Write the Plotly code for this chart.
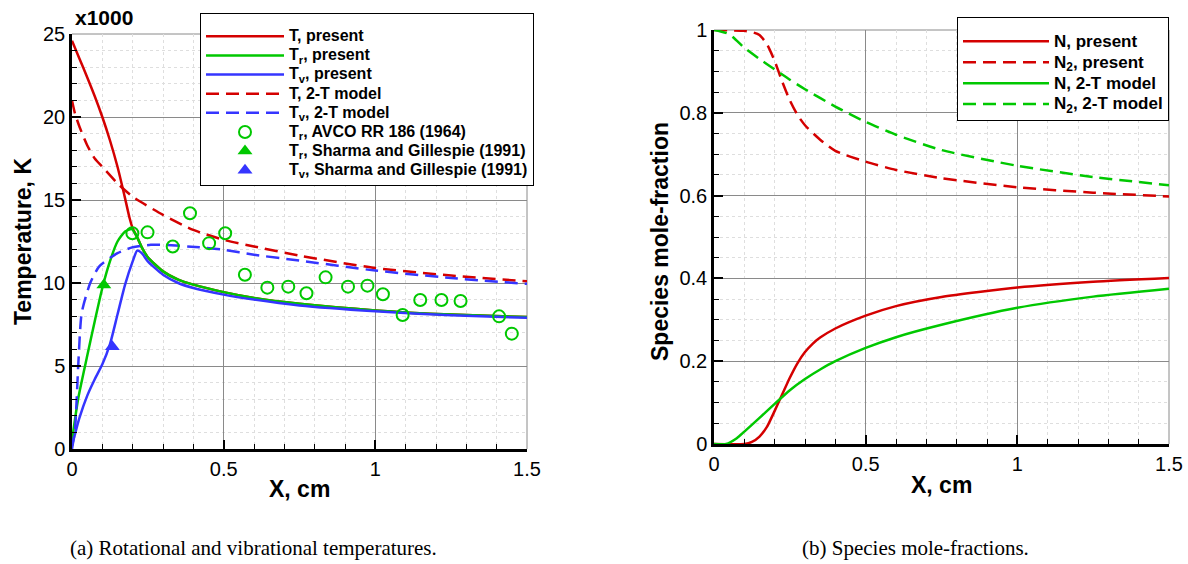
import plotly.graph_objects as go

W, H = 1188, 564
FONT = "Liberation Sans, Arial, Helvetica, sans-serif"
SERIF = "Liberation Serif, Times New Roman, serif"
RED = "#d40000"
GREEN = "#00c800"
BLUE = "#3535ff"

# ---------------- Panel (a): temperatures (x1000 K) ----------------
x_T_present = [0, 0.025, 0.05, 0.075, 0.1, 0.125, 0.15, 0.175, 0.19, 0.2, 0.215, 0.23, 0.25, 0.3, 0.35, 0.4, 0.5, 0.6, 0.75, 1.0, 1.25, 1.5]
T_present = [24.6, 23.5, 22.4, 21.25, 20.0, 18.6, 17.0, 15.1, 13.9, 13.3, 12.75, 12.15, 11.55, 10.7, 10.2, 9.9, 9.45, 9.1, 8.75, 8.35, 8.1, 7.95]

x_Tr_present = [0, 0.02, 0.05, 0.075, 0.1, 0.125, 0.15, 0.175, 0.197, 0.215, 0.23, 0.25, 0.3, 0.35, 0.4, 0.5, 0.6, 0.75, 1.0, 1.25, 1.5]
Tr_present = [0.5, 3.0, 5.6, 7.7, 9.7, 11.3, 12.5, 13.1, 13.25, 12.75, 12.15, 11.55, 10.7, 10.2, 9.9, 9.45, 9.1, 8.75, 8.35, 8.1, 7.95]

x_Tv_present = [0, 0.025, 0.05, 0.075, 0.1, 0.125, 0.15, 0.175, 0.2, 0.215, 0.23, 0.25, 0.3, 0.35, 0.4, 0.5, 0.6, 0.75, 1.0, 1.25, 1.5]
Tv_present = [0.2, 1.9, 3.2, 4.2, 5.1, 6.3, 8.1, 9.9, 11.3, 11.95, 11.8, 11.3, 10.5, 10.0, 9.7, 9.3, 9.0, 8.65, 8.3, 8.05, 7.9]

x_T_2T = [0, 0.01, 0.025, 0.05, 0.075, 0.1, 0.15, 0.2, 0.3, 0.4, 0.5, 0.6, 0.75, 1.0, 1.25, 1.5]
T_2T = [21.0, 20.2, 19.4, 18.3, 17.5, 17.0, 16.0, 15.2, 14.1, 13.2, 12.6, 12.2, 11.65, 10.9, 10.45, 10.1]

x_Tv_2T = [0, 0.01, 0.021, 0.032, 0.06, 0.09, 0.15, 0.2, 0.26, 0.3, 0.42, 0.5, 0.6, 0.75, 1.0, 1.25, 1.5]
Tv_2T = [0.0, 1.2, 5.2, 8.2, 10.0, 11.0, 11.8, 12.15, 12.3, 12.3, 12.15, 12.0, 11.7, 11.35, 10.75, 10.3, 9.95]

x_avco = [0.199, 0.249, 0.332, 0.389, 0.452, 0.505, 0.570, 0.644, 0.713, 0.773, 0.836, 0.910, 0.974, 1.025, 1.090, 1.148, 1.218, 1.281, 1.408, 1.450]
Tr_avco = [13.0, 13.05, 12.2, 14.2, 12.4, 13.0, 10.5, 9.72, 9.78, 9.38, 10.34, 9.78, 9.84, 9.32, 8.07, 8.98, 8.98, 8.92, 7.99, 6.95]

x_sg_r = [0.105]
Tr_sg = [9.88]
x_sg_v = [0.133]
Tv_sg = [6.16]

# ---------------- Panel (b): species mole fractions ----------------
x_N_present = [0, 0.1, 0.125, 0.15, 0.175, 0.2, 0.225, 0.25, 0.275, 0.3, 0.325, 0.35, 0.4, 0.5, 0.6, 0.75, 1.0, 1.25, 1.5]
N_present = [0, 0, 0.005, 0.018, 0.042, 0.08, 0.12, 0.16, 0.195, 0.222, 0.242, 0.257, 0.279, 0.31, 0.333, 0.355, 0.378, 0.392, 0.401]

x_N2_present = [0, 0.1, 0.125, 0.15, 0.175, 0.2, 0.225, 0.25, 0.275, 0.3, 0.35, 0.4, 0.5, 0.6, 0.75, 1.0, 1.25, 1.5]
N2_present = [1, 0.998, 0.995, 0.988, 0.965, 0.925, 0.875, 0.83, 0.795, 0.77, 0.735, 0.708, 0.682, 0.662, 0.642, 0.62, 0.607, 0.598]

x_N_2T = [0, 0.04, 0.075, 0.1, 0.15, 0.2, 0.25, 0.3, 0.35, 0.4, 0.5, 0.6, 0.75, 1.0, 1.25, 1.5]
N_2T = [0, 0, 0.014, 0.03, 0.063, 0.097, 0.13, 0.157, 0.18, 0.2, 0.232, 0.258, 0.288, 0.329, 0.356, 0.375]

x_N2_2T = [0, 0.05, 0.1, 0.15, 0.2, 0.25, 0.3, 0.4, 0.5, 0.6, 0.75, 1.0, 1.25, 1.5]
N2_2T = [1, 0.99, 0.957, 0.93, 0.905, 0.88, 0.857, 0.815, 0.778, 0.747, 0.71, 0.672, 0.645, 0.625]

x_ticks = [0, 0.5, 1, 1.5]
x_ticktext = ["0", "0.5", "1", "1.5"]
yT_ticks = [0, 5, 10, 15, 20, 25]
yT_ticktext = ["0", "5", "10", "15", "20", "25"]
yN_ticks = [0, 0.2, 0.4, 0.6, 0.8, 1.0]
yN_ticktext = ["0", "0.2", "0.4", "0.6", "0.8", "1"]

DASH = "13px,7px"
LW = 2.5


def lab(txt, size):
    return '<span style="font-size:%spx"><b>%s</b></span>' % (size, txt)


LS1 = 16
LS2 = 17

fig = go.Figure()


def line(x, y, color, dash, name, xa, ya, leg):
    fig.add_trace(go.Scatter(
        x=x, y=y, mode="lines", name=name, xaxis=xa, yaxis=ya, legend=leg,
        line=dict(color=color, width=LW, dash=dash, shape="spline", smoothing=0.6)))


line(x_T_present, T_present, RED, "solid", lab("T, present", LS1), "x", "y", "legend")
line(x_Tr_present, Tr_present, GREEN, "solid", lab("T<sub>r</sub>, present", LS1), "x", "y", "legend")
line(x_Tv_present, Tv_present, BLUE, "solid", lab("T<sub>v</sub>, present", LS1), "x", "y", "legend")
line(x_T_2T, T_2T, RED, DASH, lab("T, 2-T model", LS1), "x", "y", "legend")
line(x_Tv_2T, Tv_2T, BLUE, DASH, lab("T<sub>v</sub>, 2-T model", LS1), "x", "y", "legend")

fig.add_trace(go.Scatter(
    x=x_avco, y=Tr_avco, mode="markers", name=lab("T<sub>r</sub>, AVCO RR 186 (1964)", LS1),
    xaxis="x", yaxis="y", legend="legend",
    marker=dict(symbol="circle-open", size=12, color=GREEN, line=dict(width=2, color=GREEN))))
fig.add_trace(go.Scatter(
    x=x_sg_r, y=Tr_sg, mode="markers", name=lab("T<sub>r</sub>, Sharma and Gillespie (1991)", LS1),
    xaxis="x", yaxis="y", legend="legend",
    marker=dict(symbol="triangle-up", size=13, color=GREEN)))
fig.add_trace(go.Scatter(
    x=x_sg_v, y=Tv_sg, mode="markers", name=lab("T<sub>v</sub>, Sharma and Gillespie (1991)", LS1),
    xaxis="x", yaxis="y", legend="legend",
    marker=dict(symbol="triangle-up", size=13, color=BLUE)))

line(x_N_present, N_present, RED, "solid", lab("N, present", LS2), "x2", "y2", "legend2")
line(x_N2_present, N2_present, RED, DASH, lab("N<sub>2</sub>, present", LS2), "x2", "y2", "legend2")
line(x_N_2T, N_2T, GREEN, "solid", lab("N, 2-T model", LS2), "x2", "y2", "legend2")
line(x_N2_2T, N2_2T, GREEN, DASH, lab("N<sub>2</sub>, 2-T model", LS2), "x2", "y2", "legend2")

GRID = "#8a8a8a"
MINORGRID = "#dedede"


def xaxis_style(domain, anchor):
    return dict(
        domain=domain, anchor=anchor, range=[0, 1.5], tickvals=x_ticks, ticktext=x_ticktext,
        ticks="inside", ticklen=9, tickwidth=2, tickcolor="black",
        showline=True, linecolor="black", linewidth=2.5,
        showgrid=True, gridcolor=GRID, gridwidth=1, zeroline=False,
        tickfont=dict(family=FONT, size=20, color="black"),
        minor=dict(dtick=0.1, tick0=0, ticks="inside", ticklen=5, tickwidth=1, tickcolor="black",
                   showgrid=True, gridcolor=MINORGRID, griddash="dot", gridwidth=1),
        automargin=False, fixedrange=True)


def yaxis_style(domain, anchor, rng, tv, tt, mdt):
    return dict(
        domain=domain, anchor=anchor, range=rng, tickvals=tv, ticktext=tt,
        ticks="inside", ticklen=9, tickwidth=2, tickcolor="black",
        showline=True, linecolor="black", linewidth=2.5,
        showgrid=True, gridcolor=GRID, gridwidth=1, zeroline=False,
        tickfont=dict(family=FONT, size=20, color="black"),
        minor=dict(dtick=mdt, tick0=0, ticks="inside", ticklen=5, tickwidth=1, tickcolor="black",
                   showgrid=True, gridcolor=MINORGRID, griddash="dot", gridwidth=1),
        automargin=False, fixedrange=True)


legend_common = dict(bordercolor="black", borderwidth=1, bgcolor="white",
                     xanchor="left", yanchor="top", tracegroupgap=0,
                     itemclick=False, itemdoubleclick=False)

fig.update_layout(
    width=W, height=H, margin=dict(l=0, r=0, t=0, b=0),
    paper_bgcolor="white", plot_bgcolor="white",
    font=dict(family=FONT, color="black"),
    xaxis=xaxis_style([72 / W, 527 / W], "y"),
    yaxis=yaxis_style([(H - 449) / H, (H - 34) / H], "x", [0, 25], yT_ticks, yT_ticktext, 1),
    xaxis2=xaxis_style([714 / W, 1169 / W], "y2"),
    yaxis2=yaxis_style([(H - 444) / H, (H - 30) / H], "x2", [0, 1], yN_ticks, yN_ticktext, 0.05),
    legend=dict(x=200 / W, y=1 - 13 / H, itemwidth=78,
                title=dict(text=" ", font=dict(size=6)),
                font=dict(family=FONT, size=12.4, color="black"), **legend_common),
    legend2=dict(x=957 / W, y=1 - 17 / H, itemwidth=86,
                 title=dict(text=" ", font=dict(size=6)),
                 font=dict(family=FONT, size=13.8, color="black"), **legend_common),
    showlegend=True,
)

# frame (top / right) in grid gray
for xr, yr in (("x domain", "y domain"), ("x2 domain", "y2 domain")):
    fig.add_shape(type="line", xref=xr, yref=yr, x0=0, x1=1, y0=1, y1=1, line=dict(color=GRID, width=1), layer="below")
    fig.add_shape(type="line", xref=xr, yref=yr, x0=1, x1=1, y0=0, y1=1, line=dict(color=GRID, width=1), layer="below")

ann = [
    dict(text="<b>x1000</b>", x=73 / W, y=1 - 17 / H, xanchor="left", yanchor="middle", font=dict(size=21)),
    dict(text="<b>X, cm</b>", x=299.5 / W, y=1 - 489 / H, xanchor="center", yanchor="middle", font=dict(size=23)),
    dict(text="<b>X, cm</b>", x=941.5 / W, y=1 - 485 / H, xanchor="center", yanchor="middle", font=dict(size=23)),
    dict(text="<b>Temperature, K</b>", x=23 / W, y=1 - 242 / H, xanchor="center", yanchor="middle", textangle=-90, font=dict(size=23)),
    dict(text="<b>Species mole-fraction</b>", x=660 / W, y=1 - 242 / H, xanchor="center", yanchor="middle", textangle=-90, font=dict(size=23)),
    dict(text="(a) Rotational and vibrational temperatures.", x=253 / W, y=1 - 548 / H, xanchor="center", yanchor="middle",
         font=dict(family=SERIF, size=21)),
    dict(text="(b) Species mole-fractions.", x=915 / W, y=1 - 548 / H, xanchor="center", yanchor="middle",
         font=dict(family=SERIF, size=21)),
]
for a in ann:
    a.update(xref="paper", yref="paper", showarrow=False)
    a["font"] = dict(family=a["font"].get("family", FONT), size=a["font"]["size"], color="black")
    fig.add_annotation(**a)

fig.write_html("out.html")
